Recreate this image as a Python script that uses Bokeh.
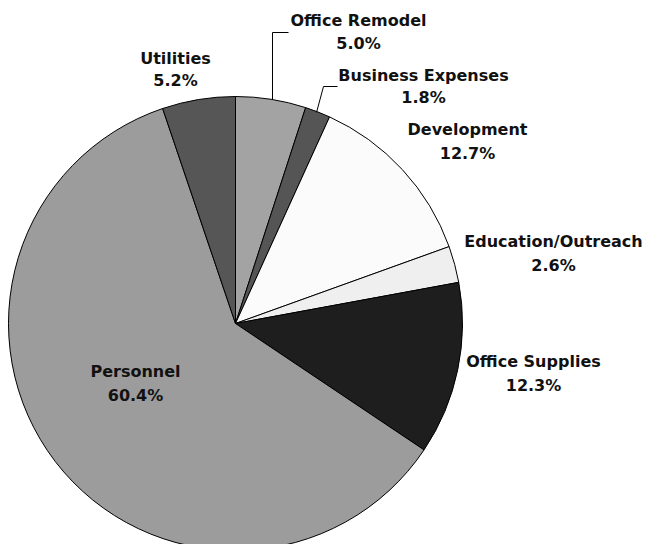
import math
from bokeh.plotting import figure
from bokeh.models import Range1d, ColumnDataSource
from bokeh.core.properties import value
from bokeh.embed import file_html
from bokeh.resources import INLINE

# ---- data ----
categories = ["Office Remodel", "Business Expenses", "Development",
              "Education/Outreach", "Office Supplies", "Personnel", "Utilities"]
percents = [5.0, 1.8, 12.7, 2.6, 12.3, 60.4, 5.2]
pct_labels = ["5.0%", "1.8%", "12.7%", "2.6%", "12.3%", "60.4%", "5.2%"]

# ---- styles / layout ----
colors = ["#a3a3a3", "#555555", "#fbfbfb", "#efefef", "#1e1e1e", "#9c9c9c", "#565656"]
# label centres in pixel coordinates of the original (x, y line1, y line2)
lab_px_x = [358, 423, 467, 553, 533, 135, 175]
lab_px_y1 = [20, 75, 129, 241, 361, 371, 57.5]
lab_px_y2 = [43, 97, 153, 265, 385, 395, 80]

CX, CY, R = 235.0, 323.0, 227.0   # pie centre / radius (pixels)
OX, OY = 0, 0                      # where the plot's top-left lands in the picture


def dx(px):
    return (px - CX) / R


def dy(py):
    return (CY - py) / R


W, H = 648, 544
p = figure(width=W, height=H, output_backend="svg", toolbar_location=None,
           x_range=Range1d(dx(OX), dx(OX + W)), y_range=Range1d(dy(OY + H), dy(OY)),
           min_border=0)
p.axis.visible = False
p.grid.visible = False
p.outline_line_color = None
p.background_fill_color = "white"
p.border_fill_color = "white"

# wedges, clockwise from 12 o'clock
total = sum(percents)
starts, ends = [], []
acc = 0.0
for v in percents:
    a0 = math.pi / 2 - 2 * math.pi * acc / total
    acc += v
    a1 = math.pi / 2 - 2 * math.pi * acc / total
    starts.append(a0)
    ends.append(a1)

src = ColumnDataSource(dict(start=starts, end=ends, color=colors, cat=categories))
p.wedge(x=0, y=0, radius=1.0, start_angle="start", end_angle="end",
        direction="clock", fill_color="color", line_color="black", line_width=1,
        source=src)

# leader lines (Office Remodel, Business Expenses)
p.line(x=[dx(272), dx(272), dx(288)], y=[dy(99), dy(32), dy(32)],
       line_color="black", line_width=1)
p.line(x=[dx(316), dx(323), dx(337)], y=[dy(112), dy(86), dy(86)],
       line_color="black", line_width=1)

font = value("DejaVu Sans")
p.text(x=[dx(v) for v in lab_px_x], y=[dy(v) for v in lab_px_y1], text=categories,
       text_font=font, text_font_style="bold", text_font_size="16px",
       text_align="center", text_baseline="middle", text_color="#111111")
p.text(x=[dx(v) for v in lab_px_x], y=[dy(v) for v in lab_px_y2], text=pct_labels,
       text_font=font, text_font_style="bold", text_font_size="16px",
       text_align="center", text_baseline="middle", text_color="#111111")

open("out.html", "w").write(file_html(p, INLINE))
